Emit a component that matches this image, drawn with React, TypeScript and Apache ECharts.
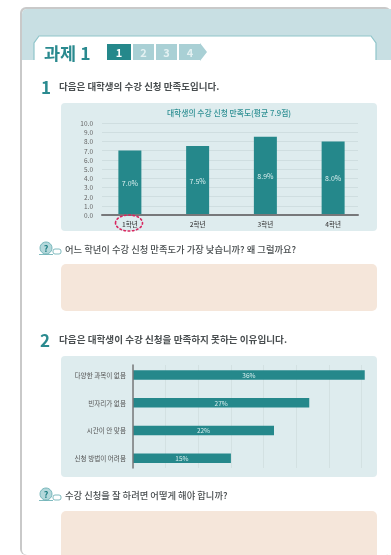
import React, { useEffect, useRef } from "react";
import * as echarts from "echarts";

const FONT = '"Noto Sans CJK KR"';
const TEAL = "#25888b";
const INK = "#4a4f51";

const gradeCategories = ["1학년", "2학년", "3학년", "4학년"];
const gradeValues = [7.0, 7.5, 8.5, 8.0];
const gradeLabels = ["7.0%", "7.5%", "8.9%", "8.0%"];
const reasonCategories = ["다양한 과목이 없음", "빈자리가 없음", "시간이 안 맞음", "신청 방법이 어려움"];
const reasonValues = [35.5, 27, 21.6, 15];
const reasonLabels = ["36%", "27%", "22%", "15%"];

const pageTitle = "과제 1";
const steps = ["1", "2", "3", "4"];
const chartTitle = "대학생의 수강 신청 만족도(평균 7.9점)";
const heading1 = "다음은 대학생의 수강 신청 만족도입니다.";
const heading2 = "다음은 대학생이 수강 신청을 만족하지 못하는 이유입니다.";
const question1 = "어느 학년이 수강 신청 만족도가 가장 낮습니까? 왜 그럴까요?";
const question2 = "수강 신청을 잘 하려면 어떻게 해야 합니까?";

const txt = (x: number, y: number, text: string, font: string, fill: string, align = "left") => ({
  type: "text",
  z: 20,
  style: { x, y, text, font, fill, align, verticalAlign: "middle" },
});

const rect = (x: number, y: number, width: number, height: number, fill: string, r = 0, z = -5) => ({
  type: "rect",
  z,
  shape: { x, y, width, height, r },
  style: { fill },
});

const icon = (x: number, y: number) => [
  { type: "circle", z: 20, shape: { cx: x + 6, cy: y - 1, r: 6 }, style: { fill: "#b4d8db", stroke: "#5fa9ae", lineWidth: 0.8 } },
  txt(x + 6, y - 1, "?", `bold 9px ${FONT}`, "#1f7f84", "center"),
  { type: "rect", z: 19, shape: { x: x + 13, y: y, width: 8, height: 5, r: 2 }, style: { fill: "#ffffff", stroke: "#5fa9ae", lineWidth: 0.8 } },
  { type: "line", z: 19, shape: { x1: x - 1, y1: y + 5.5, x2: x + 13, y2: y + 5.5 }, style: { stroke: "#5fa9ae", lineWidth: 0.8 } },
];

export default function App() {
  const ref = useRef<HTMLDivElement>(null);
  useEffect(() => {
    const chart = echarts.init(ref.current!, undefined, { renderer: "svg" });
    const stepBoxes = [
      { x: 107, w: 24, fill: TEAL },
      { x: 133, w: 21, fill: "#a9d0d5" },
      { x: 156, w: 21, fill: "#a9d0d5" },
    ];
    chart.setOption({
      animation: false,
      title: {
        text: chartTitle,
        left: 224,
        top: 104,
        textAlign: "center",
        textStyle: { fontFamily: FONT, fontSize: 7.8, fontWeight: 500, color: "#2f9094" },
      },
      grid: [
        { left: 102, top: 123, width: 256, height: 92 },
        { left: 96, top: 123, width: 271, height: 92 },
        { left: 133, top: 365, width: 235, height: 103 },
        { left: 133, top: 361, width: 235, height: 111 },
      ],
      xAxis: [
        { gridIndex: 0, type: "category", data: gradeCategories, z: 5, axisLine: { lineStyle: { color: "#77787a", width: 2 } }, axisTick: { show: false }, axisLabel: { show: false } },
        { gridIndex: 1, type: "category", data: gradeCategories, axisLine: { show: false }, axisTick: { show: false }, axisLabel: { margin: 6, fontFamily: FONT, fontSize: 6.5, color: "#444", fontWeight: 500 } },
        { gridIndex: 2, type: "value", min: 0, max: 36, interval: 5, axisLine: { show: false }, axisTick: { show: false }, axisLabel: { show: false }, splitLine: { show: true, showMaxLine: false, lineStyle: { color: "#cfdcdd", width: 0.7 } } },
        { gridIndex: 3, type: "value", min: 0, max: 36, show: false },
      ],
      yAxis: [
        { gridIndex: 0, type: "value", min: 0, max: 10, interval: 1, axisLine: { show: false }, axisTick: { show: false }, axisLabel: { margin: 9, formatter: (v: number) => v.toFixed(1), fontFamily: FONT, fontSize: 6.5, color: "#666" }, splitLine: { lineStyle: { color: "#c9d8da", width: 0.7 } } },
        { gridIndex: 1, type: "value", min: 0, max: 10, show: false },
        { gridIndex: 2, type: "category", inverse: true, data: reasonCategories.map(() => ""), z: 5, axisLine: { lineStyle: { color: "#77787a", width: 1.5 } }, axisTick: { show: false }, axisLabel: { show: false }, splitLine: { show: false } },
        { gridIndex: 3, type: "category", inverse: true, data: reasonCategories, axisLine: { show: false }, axisTick: { show: false }, axisLabel: { margin: 7, fontFamily: FONT, fontSize: 6.6, color: "#555" } },
      ],
      series: [
        {
          type: "bar",
          xAxisIndex: 1,
          yAxisIndex: 1,
          data: gradeValues,
          barWidth: 23,
          itemStyle: { color: TEAL },
          label: { show: true, position: "inside", formatter: (p: any) => gradeLabels[p.dataIndex], fontFamily: FONT, fontSize: 7, color: "#d8eeee" },
        },
        {
          type: "bar",
          xAxisIndex: 3,
          yAxisIndex: 3,
          data: reasonValues,
          barWidth: 9.5,
          itemStyle: { color: TEAL },
          label: { show: true, position: "inside", formatter: (p: any) => reasonLabels[p.dataIndex], fontFamily: FONT, fontSize: 6.5, color: "#d8eeee" },
        },
      ],
      graphic: [
        rect(20, 7, 371, 548, "#c9c9c9", 6, -9),
        rect(22, 9, 369, 546, "#ffffff", 5, -8),
        { type: "rect", z: -7, shape: { x: 22, y: 9, width: 369, height: 51, r: [5, 0, 0, 0] }, style: { fill: "#c8dfe3" } },
        { type: "polygon", z: -6, shape: { points: [[34, 60], [34, 43], [39, 36], [371, 36], [376, 43], [376, 60]] }, style: { fill: "#ffffff" } },
        { type: "polyline", z: -5, shape: { points: [[34, 60], [34, 43], [39, 36], [371, 36], [376, 43], [376, 60]] }, style: { fill: "none", stroke: "#8fc5ca", lineWidth: 1.2 } },
        txt(44, 52, pageTitle, `bold 17.5px ${FONT}`, "#2a8a8f"),
        ...stepBoxes.map((b) => rect(b.x, 44, b.w, 16, b.fill, 0, 5)),
        { type: "polygon", z: 5, shape: { points: [[179, 44], [200, 44], [200, 43], [207, 52], [200, 61], [200, 60], [179, 60]] }, style: { fill: "#a9d0d5" } },
        ...steps.map((s, i) => txt([119, 143.5, 166.5, 190][i], 52, s, `bold 11px ${FONT}`, i === 0 ? "#ffffff" : "#e4f1f2", "center")),
        txt(41, 86, "1", `bold 17px ${FONT}`, "#2a8a8f"),
        txt(59, 86, heading1, `bold 9.5px ${FONT}`, INK),
        rect(61, 103, 316, 128, "#deecee", 4),
        rect(61, 356, 316, 121, "#deecee", 4),
        { type: "ellipse", z: 10, shape: { cx: 129, cy: 223, rx: 13.5, ry: 8 }, style: { fill: "none", stroke: "#d8265f", lineWidth: 1.6, lineDash: [1.6, 2.6], lineCap: "round" } },
        ...icon(40, 249),
        txt(65, 249, question1, `500 9.3px ${FONT}`, INK),
        rect(61, 264, 316, 47, "#f5e6da", 5),
        txt(40, 339, "2", `bold 17px ${FONT}`, "#2a8a8f"),
        txt(59, 339, heading2, `bold 9.6px ${FONT}`, INK),
        ...icon(40, 495),
        txt(65, 495, question2, `500 9.3px ${FONT}`, INK),
        rect(61, 511, 316, 50, "#f5e6da", 5),
      ],
    });
    return () => chart.dispose();
  }, []);
  return <div ref={ref} style={{ position: "fixed", left: 0, top: 0, width: 391, height: 555, background: "#ffffff", filter: "blur(0.35px)" }} />;
}
